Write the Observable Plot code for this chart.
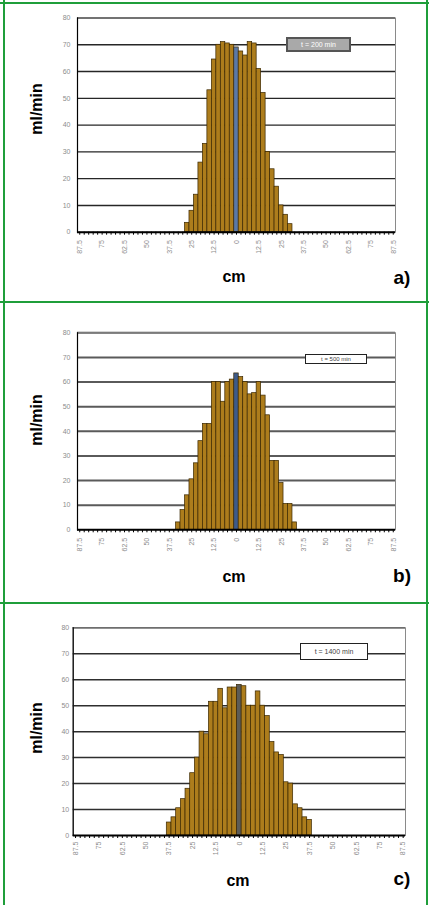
<!DOCTYPE html>
<html>
<head>
<meta charset="utf-8">
<script src="https://cdn.jsdelivr.net/npm/d3@7"></script>
<script src="https://cdn.jsdelivr.net/npm/@observablehq/plot@0.6"></script>
<style>
  html, body { margin: 0; padding: 0; background: #fff; }
  #page { position: relative; width: 429px; height: 905px; overflow: hidden; background: #fff; font-family: "Liberation Sans", Arial, sans-serif; }
  .gline { position: absolute; background: #1f9e3a; }
  .panel { position: absolute; left: 0; width: 429px; }
  .panel svg { position: absolute; left: 0; top: 0; }
  .ylab { position: absolute; font-weight: bold; font-size: 16px; color: #000; transform: translate(-50%, -50%) rotate(-90deg); white-space: nowrap; }
  .xlab { position: absolute; font-weight: bold; font-size: 16px; color: #000; transform: translateX(-50%); white-space: nowrap; }
  .plab { position: absolute; font-weight: bold; font-size: 19px; color: #000; transform: translateX(-50%); white-space: nowrap; }
  .legend { position: absolute; box-sizing: border-box; font-size: 7px; display: flex; align-items: center; justify-content: center; white-space: nowrap; }
</style>
</head>
<body>
<div id="page"></div>
<script>
// ---- data ----
const categories = [-87.5,-85,-82.5,-80,-77.5,-75,-72.5,-70,-67.5,-65,-62.5,-60,-57.5,-55,-52.5,-50,-47.5,-45,-42.5,-40,-37.5,-35,-32.5,-30,-27.5,-25,-22.5,-20,-17.5,-15,-12.5,-10,-7.5,-5,-2.5,0,2.5,5,7.5,10,12.5,15,17.5,20,22.5,25,27.5,30,32.5,35,37.5,40,42.5,45,47.5,50,52.5,55,57.5,60,62.5,65,67.5,70,72.5,75,77.5,80,82.5,85,87.5];
const xTickValues = [-87.5,-75,-62.5,-50,-37.5,-25,-12.5,0,12.5,25,37.5,50,62.5,75,87.5];
const xTickLabels = ["87.5","75","62.5","50","37.5","25","12.5","0","12.5","25","37.5","50","62.5","75","87.5"];
const yTicks = [0,10,20,30,40,50,60,70,80];

const aCm = [-27.5,-25,-22.5,-20,-17.5,-15,-12.5,-10,-7.5,-5,-2.5,0,2.5,5,7.5,10,12.5,15,17.5,20,22.5,25,27.5,30];
const aFlow = [3.5,8,14,26,33,53,64.5,70,71,70.5,70,69,67.5,66,71,70.5,61,52,30,23.5,17,10,6.5,3];

const bCm = [-32.5,-30,-27.5,-25,-22.5,-20,-17.5,-15,-12.5,-10,-7.5,-5,-2.5,0,2.5,5,7.5,10,12.5,15,17.5,20,22.5,25,27.5,30,32.5];
const bFlow = [3,8,14,20.5,27,36,43,43,60,60,52,60,61,63.5,62,60,55,55.5,60,54.5,46.5,28,28,19,10.5,10.5,3];

const cCm = [-37.5,-35,-32.5,-30,-27.5,-25,-22.5,-20,-17.5,-15,-12.5,-10,-7.5,-5,-2.5,0,2.5,5,7.5,10,12.5,15,17.5,20,22.5,25,27.5,30,32.5,35,37.5];
const cFlow = [5,7,10.5,14,18,24,30,40,39,51.5,51.5,56.5,49,57,57,58,57.5,50,50,55.5,50,46,36,32,31,20.5,20,12,10.5,7,6];

const legendTexts = ["t = 200 min", "t = 500 min", "t = 1400 min"];
const panelLabels = ["a)", "b)", "c)"];
const yTitle = "ml/min";
const xTitle = "cm";

// ---- layout ----
const page = document.getElementById("page");
const tickLabelMap = new Map(xTickValues.map((v, i) => [v, xTickLabels[i]]));

function addDiv(cls, css, text) {
  const d = document.createElement("div");
  d.className = cls;
  Object.assign(d.style, css);
  if (text != null) d.textContent = text;
  page.appendChild(d);
  return d;
}

function drawPanel(cfg) {
  const data = cfg.cm.map((c, i) => ({cm: c, v: cfg.flow[i]}));
  const chart = Plot.plot({
    width: 429,
    height: cfg.height,
    marginTop: cfg.mt,
    marginBottom: cfg.mb,
    marginLeft: cfg.ml,
    marginRight: cfg.mr,
    style: {fontFamily: "'Liberation Sans', Arial, sans-serif", background: "transparent"},
    x: {type: "band", domain: categories, padding: 0, axis: null, label: null},
    y: {domain: [0, 80], axis: null, label: null},
    color: {type: "identity"},
    marks: [
      Plot.ruleY(yTicks.slice(1), {stroke: cfg.grid, strokeWidth: cfg.gridW}),
      Plot.frame({stroke: "#8a8a8a", strokeWidth: 1}),
      Plot.barY(data, {
        x: "cm", y: "v",
        fill: d => d.cm === 0 ? cfg.centerFill : "#ad7d1c",
        stroke: "#3a2700", strokeWidth: 0.7
      }),
      Plot.ruleY([0], {stroke: "#000", strokeWidth: 2}),
      Plot.frame({anchor: "left", stroke: "#000", strokeWidth: 1.2}),
      Plot.axisX({ticks: categories, tickSize: 3, tickFormat: () => "", stroke: "#000", label: null}),
      Plot.axisX({ticks: xTickValues, tickSize: 0, tickPadding: cfg.xpad, tickRotate: -90,
        tickFormat: d => tickLabelMap.get(d), fontSize: 7, fill: "#8c8c8c", label: null}),
      Plot.axisY({ticks: yTicks, tickSize: 0, tickPadding: cfg.ypad, fontSize: 7, fill: "#8c8c8c", label: null})
    ]
  });
  const wrap = document.createElement("div");
  wrap.className = "panel";
  wrap.style.top = cfg.top + "px";
  wrap.style.height = cfg.height + "px";
  wrap.appendChild(chart);
  page.appendChild(wrap);

  addDiv("ylab", {left: "37px", top: cfg.ylabY + "px"}, yTitle);
  addDiv("xlab", {left: cfg.xlabX + "px", top: cfg.xlabY + "px"}, xTitle);
  addDiv("plab", {left: "402px", top: cfg.plabY + "px"}, cfg.plab);
  addDiv("legend", cfg.legendCss, cfg.legend);
}

drawPanel({
  cm: aCm, flow: aFlow, centerFill: "#5b79a6", grid: "#262626", gridW: 1.4,
  top: 0, height: 300, mt: 17.5, mb: 68.3, ml: 77, mr: 34, xpad: 8, ypad: 7,
  ylabY: 109, xlabX: 234, xlabY: 268, plabY: 267, plab: panelLabels[0],
  legend: legendTexts[0],
  legendCss: {left: "286px", top: "37px", width: "65px", height: "15px", border: "2px solid #555", background: "#a9a9a9", color: "#fff"}
});
drawPanel({
  cm: bCm, flow: bFlow, centerFill: "#3e5b8a", grid: "#5a5a5a", gridW: 2,
  top: 302, height: 300, mt: 30.3, mb: 72.7, ml: 77, mr: 34, xpad: 8, ypad: 7,
  ylabY: 420, xlabX: 234, xlabY: 568, plabY: 565, plab: panelLabels[1],
  legend: legendTexts[1],
  legendCss: {left: "305px", top: "354px", width: "62px", height: "10px", border: "1.5px solid #222", background: "#fff", color: "#444", fontSize: "6px"}
});
drawPanel({
  cm: cCm, flow: cFlow, centerFill: "#5c5c58", grid: "#2e2e2e", gridW: 1.5,
  top: 603, height: 302, mt: 24.3, mb: 70, ml: 72.7, mr: 24, xpad: 6, ypad: 4,
  ylabY: 728, xlabX: 238, xlabY: 872, plabY: 868, plab: panelLabels[2],
  legend: legendTexts[2],
  legendCss: {left: "300px", top: "643px", width: "68px", height: "17px", border: "1.5px solid #222", background: "#fff", color: "#444"}
});

// green panel borders
addDiv("gline", {left: "0px", top: "2px", width: "429px", height: "2px"});
addDiv("gline", {left: "3px", top: "0px", width: "2px", height: "905px"});
addDiv("gline", {left: "426px", top: "0px", width: "2px", height: "905px"});
addDiv("gline", {left: "0px", top: "301px", width: "429px", height: "2px"});
addDiv("gline", {left: "0px", top: "602px", width: "429px", height: "2px"});
</script>
</body>
</html>
